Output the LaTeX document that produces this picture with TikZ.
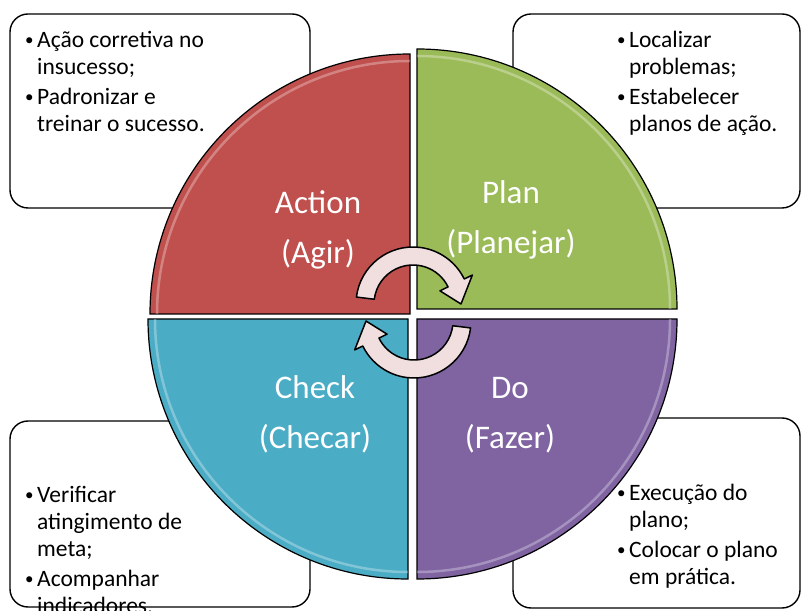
\documentclass[tikz,border=0pt]{standalone}
\usepackage{fontspec}
\setmainfont{Carlito}
\usepackage{tikz}

\definecolor{actred}{HTML}{C0504D}
\definecolor{plangreen}{HTML}{9BBB59}
\definecolor{checkblue}{HTML}{4BACC6}
\definecolor{dopurple}{HTML}{8064A2}
\definecolor{cycpink}{HTML}{F1DFDF}

\newcommand{\bul}{\makebox[12pt][l]{\raisebox{1.5pt}{\fontsize{17}{17}\selectfont\textbullet}}}
\newcommand{\ind}{\hspace*{12pt}}

\begin{document}
\begin{tikzpicture}[x=1pt,y=1pt,
    box/.style={draw,line width=1.4pt,rounded corners=18pt,fill=white},
    sector/.style={draw=black,line width=1.2pt},
    shine/.style={white,opacity=.3,line width=2.5pt},
    phase/.style={text=white,align=center,inner sep=0pt,font=\fontsize{33}{50}\selectfont},
    notes/.style={anchor=north west,align=left,inner sep=0pt,font=\fontsize{23.5}{27}\selectfont},
    cyc/.style={draw=black,line width=1.5pt,fill=cycpink,line join=round}]
  \useasboundingbox (0,0) rectangle (802,610);

  % note boxes behind the circle
  \draw[box] (10,402) rectangle (310,596);
  \draw[box] (513,402) rectangle (800,596);
  \draw[box] (10,3) rectangle (310,189);
  \draw[box] (513,2) rectangle (800,192);

  \node[notes] (agirtxt) at (25,582) {\strut\bul Ação corretiva no\\ \ind insucesso;\\[3pt] \bul Padronizar e\\ \ind treinar o sucesso.};
  \node[notes] (planejartxt) at (617,582) {\strut\bul Localizar\\ \ind problemas;\\[3pt] \bul Estabelecer\\ \ind planos de ação.};
  \node[notes] (checartxt) at (25,127) {\strut\bul Verificar\\ \ind atingimento de\\ \ind meta;\\[3pt] \bul Acompanhar\\ \ind indicadores.};
  \node[notes] (fazertxt) at (617,129) {\strut\bul Execução do\\ \ind plano;\\[3pt] \bul Colocar o plano\\ \ind em prática.};

  % the four quarters
  \draw[sector,fill=actred] (410,296) -- ++(-260,0) arc[start angle=180,end angle=90,radius=260] -- cycle;
  \draw[sector,fill=plangreen] (417,301) -- ++(0,260) arc[start angle=90,end angle=0,radius=260] -- cycle;
  \draw[sector,fill=checkblue] (408,291) -- ++(0,-260) arc[start angle=270,end angle=180,radius=260] -- cycle;
  \draw[sector,fill=dopurple] (417,291) -- ++(260,0) arc[start angle=0,end angle=-90,radius=260] -- cycle;
  \draw[shine] (410,296) ++(-253,0) arc[start angle=180,end angle=90,radius=253];
  \draw[shine] (417,301) ++(0,253) arc[start angle=90,end angle=0,radius=253];
  \draw[shine] (408,291) ++(0,-253) arc[start angle=270,end angle=180,radius=253];
  \draw[shine] (417,291) ++(253,0) arc[start angle=0,end angle=-90,radius=253];

  \node[phase] (actlbl) at (318,381) {\strut Action\\\strut (Agir)};
  \node[phase] (planlbl) at (511,391) {\strut Plan\\\strut (Planejar)};
  \node[phase] (checklbl) at (315,196) {\strut Check\\\strut (Checar)};
  \node[phase] (dolbl) at (510,196) {\strut Do\\\strut (Fazer)};

  % cycle arrows in the middle
  \begin{scope}[shift={(413,306)}]
    \draw[cyc] (173:57) arc[start angle=173,end angle=26,radius=57] -- (26:66) -- (0:48) -- (26:30) -- (26:39) arc[start angle=26,end angle=173,radius=39] -- cycle;
  \end{scope}
  \begin{scope}[shift={(414,289)}]
    \draw[cyc] (-7:57) arc[start angle=-7,end angle=-154,radius=57] -- (-154:66) -- (180:48) -- (-154:30) -- (-154:39) arc[start angle=-154,end angle=-7,radius=39] -- cycle;
  \end{scope}
\end{tikzpicture}
\end{document}
